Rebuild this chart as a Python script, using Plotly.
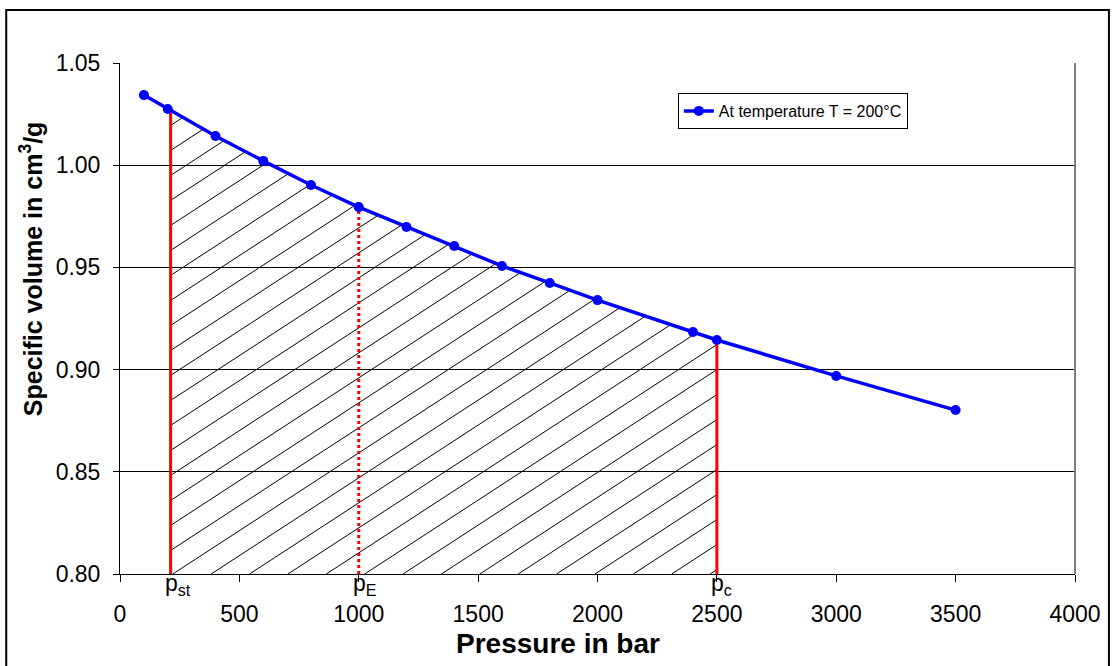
import numpy as np
import plotly.graph_objects as go

# ---- data ----
pressure = [100, 200, 400, 600, 800, 1000, 1200, 1400, 1600, 1800, 2000, 2400, 2500, 3000, 3500]
spec_vol = [1.0343, 1.0275, 1.0143, 1.0021, 0.9903, 0.9795, 0.9698, 0.9605, 0.9507,
            0.9424, 0.9340, 0.9184, 0.9145, 0.8969, 0.8802]
series_name = "At temperature T = 200°C"
p_st, p_E, p_c = 212, 1000, 2500
marker_labels = ["p<sub>st</sub>", "p<sub>E</sub>", "p<sub>c</sub>"]
x_ticks = [0, 500, 1000, 1500, 2000, 2500, 3000, 3500, 4000]
y_ticks = [0.80, 0.85, 0.90, 0.95, 1.00, 1.05]
x_title = "<b>Pressure in bar</b>"
y_title = "<b>Specific volume in cm<sup>3</sup>/g</b>"

W, H = 1113, 666
ML, MR, MT, MB = 120, 36, 63, 92
PW, PH = W - ML - MR, H - MT - MB
XMIN, XMAX, YMIN, YMAX = 0, 4000, 0.80, 1.05

p_arr = np.array(pressure, float)
v_arr = np.array(spec_vol, float)

def vol_at(p):
    return float(np.interp(p, p_arr, v_arr))

def px_to_paper_x(px):
    return (px - ML) / PW

def px_to_paper_y(py):
    return (H - MB - py) / PH

# ---- hatching (computed in pixel space from the curve) ----
m = 0.65          # slope in pixels
spacing = 25.0    # vertical spacing in pixels
cu = (p_arr - XMIN) * PW / (XMAX - XMIN)
cw = (v_arr - YMIN) * PH / (YMAX - YMIN)
u_st = (p_st - XMIN) * PW / (XMAX - XMIN)
u_c = (p_c - XMIN) * PW / (XMAX - XMIN)
us = np.linspace(u_st, u_c, 5000)
top = np.interp(us, cu, cw)
c0 = (0.90 - YMIN) * PH / (YMAX - YMIN) - m * u_c
hx, hy = [], []
k_lo = int(np.floor((-m * u_c - c0) / spacing)) - 1
k_hi = int(np.ceil((top.max() - m * u_st - c0) / spacing)) + 1
for k in range(k_lo, k_hi + 1):
    c = c0 + k * spacing
    line = m * us + c
    mask = (line >= 0) & (line <= top)
    idx = np.where(mask)[0]
    if len(idx) < 2:
        continue
    i0, i1 = idx[0], idx[-1]
    for i in (i0, i1):
        hx.append(XMIN + us[i] * (XMAX - XMIN) / PW)
        hy.append(YMIN + line[i] * (YMAX - YMIN) / PH)
    hx.append(None)
    hy.append(None)

fig = go.Figure()
fig.add_trace(go.Scatter(x=hx, y=hy, mode="lines", line=dict(color="black", width=1),
                         showlegend=False, hoverinfo="skip"))
# red vertical lines
for pv, dash in [(p_st, "solid"), (p_E, "dot"), (p_c, "solid")]:
    fig.add_trace(go.Scatter(x=[pv, pv], y=[YMIN, vol_at(pv)], mode="lines",
                             line=dict(color="#FF0000", width=3, dash=dash),
                             showlegend=False, hoverinfo="skip"))
fig.add_trace(go.Scatter(x=pressure, y=spec_vol, mode="lines+markers", name=series_name,
                         line=dict(color="#0000FF", width=3.5),
                         marker=dict(color="#0000FF", size=10)))

font = "Arial, Liberation Sans, sans-serif"
for pv, lab in zip([p_st, p_E, p_c], marker_labels):
    fig.add_annotation(x=pv, y=YMIN, xref="x", yref="y", text=lab, showarrow=False,
                       xanchor="left", yanchor="top", yshift=6, xshift=-8,
                       font=dict(family=font, size=23, color="black"))

fig.add_annotation(x=px_to_paper_x(559), y=px_to_paper_y(643), xref="paper", yref="paper",
                   text=x_title, showarrow=False, xanchor="center", yanchor="middle",
                   font=dict(family=font, size=28, color="black"))
fig.add_annotation(x=px_to_paper_x(31), y=px_to_paper_y(269), xref="paper", yref="paper",
                   text=y_title, showarrow=False, xanchor="center", yanchor="middle",
                   textangle=-90, font=dict(family=font, size=25, color="black"))

fig.update_layout(
    width=W, height=H,
    margin=dict(l=ML, r=MR, t=MT, b=MB),
    paper_bgcolor="white", plot_bgcolor="white",
    font=dict(family=font, color="black"),
    legend=dict(x=px_to_paper_x(679), y=px_to_paper_y(93), xanchor="left", yanchor="top",
                bordercolor="black", borderwidth=1, bgcolor="white",
                font=dict(size=16, family=font)),
    xaxis=dict(range=[XMIN, XMAX], tickvals=x_ticks, showgrid=False, showline=True,
               linecolor="black", linewidth=1, ticks="outside", ticklen=7, tickcolor="black",
               tickfont=dict(size=23), ticklabelstandoff=12, zeroline=False),
    yaxis=dict(range=[YMIN, YMAX], tickvals=y_ticks, tickformat=".2f", showgrid=True,
               gridcolor="black", gridwidth=1, showline=True, linecolor="black", linewidth=1,
               ticks="outside", ticklen=6, tickcolor="black", tickfont=dict(size=23),
               ticklabelstandoff=8, zeroline=False),
    shapes=[
        dict(type="line", xref="paper", yref="paper", x0=1, x1=1, y0=0, y1=1,
             line=dict(color="#808080", width=2)),
        dict(type="rect", xref="paper", yref="paper",
             x0=px_to_paper_x(6), x1=px_to_paper_x(1111),
             y0=px_to_paper_y(680), y1=px_to_paper_y(10),
             line=dict(color="black", width=2), layer="above"),
    ],
)
fig.write_html("out.html")
